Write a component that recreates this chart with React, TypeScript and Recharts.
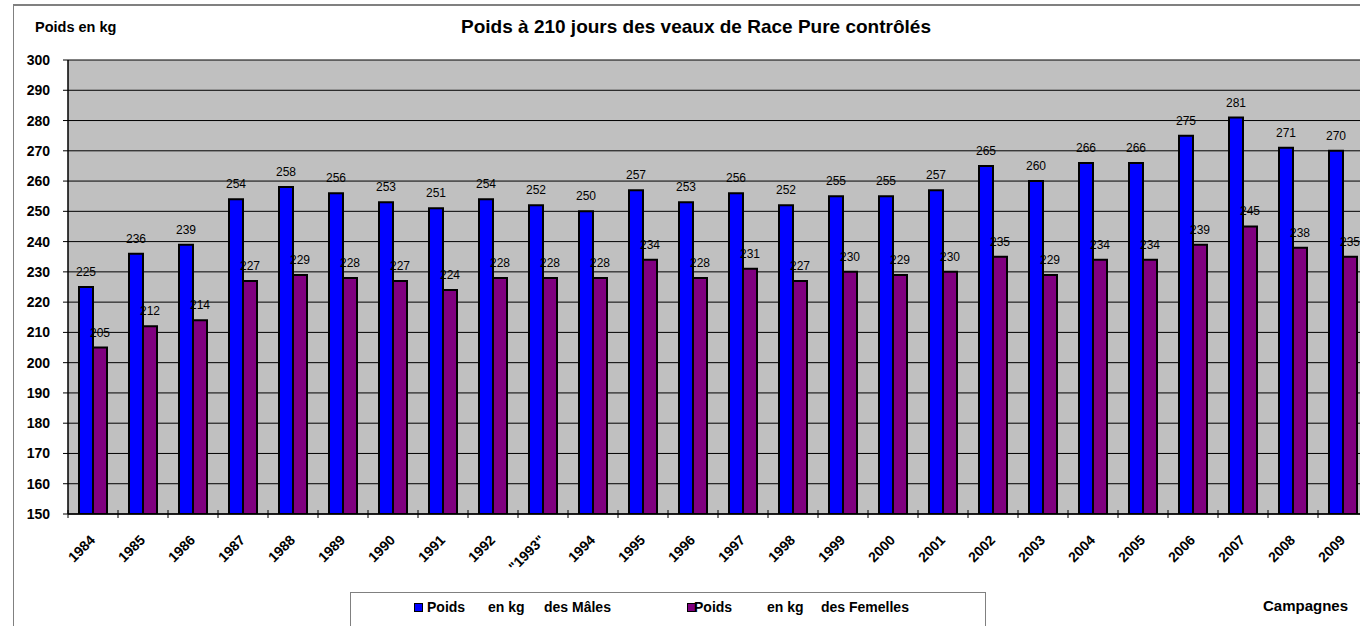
import React from 'react';
import { BarChart, Bar, XAxis, YAxis, CartesianGrid, LabelList } from 'recharts';

const campagnes = ['1984', '1985', '1986', '1987', '1988', '1989', '1990', '1991', '1992', '"1993"', '1994', '1995', '1996', '1997', '1998', '1999', '2000', '2001', '2002', '2003', '2004', '2005', '2006', '2007', '2008', '2009'];
const males = [225, 236, 239, 254, 258, 256, 253, 251, 254, 252, 250, 257, 253, 256, 252, 255, 255, 257, 265, 260, 266, 266, 275, 281, 271, 270];
const femelles = [205, 212, 214, 227, 229, 228, 227, 224, 228, 228, 228, 234, 228, 231, 227, 230, 229, 230, 235, 229, 234, 234, 239, 245, 238, 235];
const yTicks = [150, 160, 170, 180, 190, 200, 210, 220, 230, 240, 250, 260, 270, 280, 290, 300];

const FONT = '"Liberation Sans", Arial, sans-serif';

const data = campagnes.map((c, i) => ({ campagne: c, males: males[i], femelles: femelles[i] }));

const YearTick = (props: any) => {
  const { x, y, payload, width } = props;
  const half = width / campagnes.length / 2;
  const tx = x + 3;
  const ty = y + 27;
  return (
    <g>
      <line x1={x - half} x2={x - half} y1={y - 4} y2={y + 4} stroke="#000" />
      <text
        x={tx}
        y={ty}
        textAnchor="end"
        transform={`rotate(-45, ${tx}, ${ty})`}
        fontSize={14}
        fontWeight="bold"
        fill="#000"
        fontFamily={FONT}
      >
        {payload.value}
      </text>
    </g>
  );
};

const App: React.FC = () => {
  return (
    <div
      style={{
        position: 'absolute',
        left: 0,
        top: 0,
        width: 1360,
        height: 626,
        overflow: 'hidden',
        background: '#fff',
        fontFamily: FONT,
      }}
    >
      {/* outer frame */}
      <div
        style={{
          position: 'absolute',
          left: 13,
          top: 4,
          width: 1400,
          height: 700,
          border: '1px solid #808080',
          borderTopWidth: 2,
        }}
      />
      <div style={{ position: 'absolute', left: 35, top: 19, fontSize: 14.5, fontWeight: 'bold' }}>Poids en kg</div>
      <div style={{ position: 'absolute', left: 0, width: 1392, top: 16, textAlign: 'center', fontSize: 19, fontWeight: 'bold' }}>
        Poids à 210 jours des veaux de Race Pure contrôlés
      </div>

      <div style={{ position: 'absolute', left: 0, top: 0 }}>
        <BarChart
          width={1380}
          height={626}
          data={data}
          margin={{ top: 60, right: 12, left: 13, bottom: 0 }}
          barCategoryGap={11}
          barGap={0}
        >
          <CartesianGrid fill="#C0C0C0" vertical={false} stroke="#000" strokeWidth={1} />
          <XAxis
            dataKey="campagne"
            interval={0}
            height={112}
            tickLine={false}
            tickSize={0}
            tickMargin={0}
            axisLine={{ stroke: '#000', strokeWidth: 1.5 }}
            tick={<YearTick />}
          />
          <YAxis
            width={55}
            domain={[150, 300]}
            ticks={yTicks}
            interval={0}
            allowDataOverflow
            tickSize={5}
            tickMargin={13}
            tickLine={{ stroke: '#000' }}
            axisLine={{ stroke: '#000', strokeWidth: 1.5 }}
            tick={{ fontSize: 14, fontWeight: 'bold', fill: '#000', fontFamily: FONT }}
          />
          <Bar dataKey="males" fill="#0000FF" stroke="#000" strokeWidth={2} barSize={14} isAnimationActive={false}>
            <LabelList dataKey="males" position="top" offset={11} fontSize={12} fill="#000" fontFamily={FONT} />
          </Bar>
          <Bar dataKey="femelles" fill="#800080" stroke="#000" strokeWidth={2} barSize={14} isAnimationActive={false}>
            <LabelList dataKey="femelles" position="top" offset={11} fontSize={12} fill="#000" fontFamily={FONT} />
          </Bar>
        </BarChart>
      </div>

      {/* legend */}
      <div
        style={{
          position: 'absolute',
          left: 350,
          top: 592,
          width: 634,
          height: 40,
          border: '1px solid #808080',
          fontSize: 14,
          fontWeight: 'bold',
        }}
      >
        <div style={{ position: 'absolute', left: 63, top: 10, width: 7, height: 7, background: '#0000FF', border: '1px solid #000' }} />
        <span style={{ position: 'absolute', left: 76, top: 6 }}>Poids</span>
        <span style={{ position: 'absolute', left: 137, top: 6 }}>en kg</span>
        <span style={{ position: 'absolute', left: 193, top: 6 }}>des Mâles</span>
        <div style={{ position: 'absolute', left: 336, top: 10, width: 7, height: 7, background: '#800080', border: '1px solid #000' }} />
        <span style={{ position: 'absolute', left: 343, top: 6 }}>Poids</span>
        <span style={{ position: 'absolute', left: 416, top: 6 }}>en kg</span>
        <span style={{ position: 'absolute', left: 470, top: 6 }}>des Femelles</span>
      </div>

      <div style={{ position: 'absolute', left: 1263, top: 597, fontSize: 15, fontWeight: 'bold' }}>Campagnes</div>
    </div>
  );
};

export default App;
